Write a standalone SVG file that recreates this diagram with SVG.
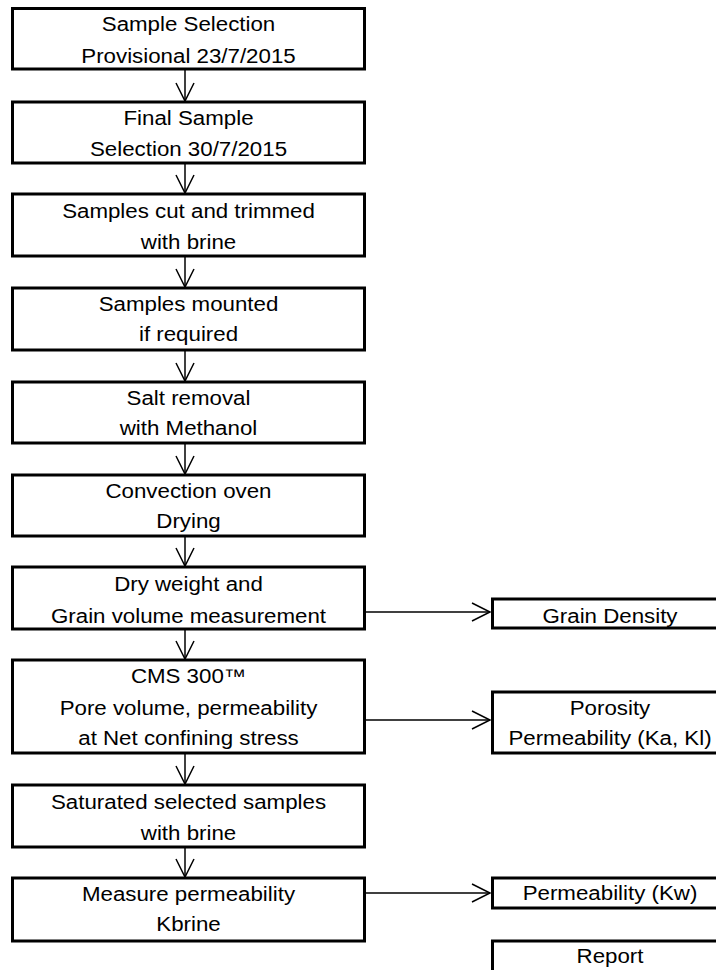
<svg xmlns="http://www.w3.org/2000/svg" width="716" height="970" viewBox="0 0 716 970">
<style>
.box{fill:#fff;stroke:#000;stroke-width:3}
.t{font-family:"Liberation Sans",Arial,sans-serif;font-size:20px;fill:#000;text-anchor:middle}
.c{stroke:#000;stroke-width:1.5;fill:none}
</style>
<defs>
<marker id="ah" viewBox="-20 -11 22 22" refX="0" refY="0" markerWidth="22" markerHeight="22" markerUnits="userSpaceOnUse" orient="auto">
<path d="M-18,-9 L0,0 L-18,9" fill="none" stroke="#000" stroke-width="1.5"/>
</marker>
</defs>
<rect width="716" height="970" fill="#fff"/>
<g id="connectors">
<line class="c" x1="185" y1="69" x2="185" y2="101" marker-end="url(#ah)"/>
<line class="c" x1="185" y1="163" x2="185" y2="193" marker-end="url(#ah)"/>
<line class="c" x1="185" y1="256" x2="185" y2="287" marker-end="url(#ah)"/>
<line class="c" x1="185" y1="350" x2="185" y2="381" marker-end="url(#ah)"/>
<line class="c" x1="185" y1="443" x2="185" y2="474" marker-end="url(#ah)"/>
<line class="c" x1="185" y1="536" x2="185" y2="566" marker-end="url(#ah)"/>
<line class="c" x1="185" y1="629" x2="185" y2="659" marker-end="url(#ah)"/>
<line class="c" x1="185" y1="752" x2="185" y2="784" marker-end="url(#ah)"/>
<line class="c" x1="185" y1="847" x2="185" y2="877" marker-end="url(#ah)"/>
<line class="c" x1="364" y1="612" x2="490" y2="612" marker-end="url(#ah)"/>
<line class="c" x1="364" y1="720" x2="490" y2="720" marker-end="url(#ah)"/>
<line class="c" x1="362" y1="893" x2="490" y2="893" marker-end="url(#ah)"/>
</g>
<g id="n1"><rect class="box" x="12.5" y="8.5" width="352" height="60.5"/>
<g transform="translate(188.5 0) scale(1.115 1)"><text class="t" x="0" y="30.7">Sample Selection</text><text class="t" x="0" y="63">Provisional 23/7/2015</text></g></g>
<g id="n2"><rect class="box" x="12.5" y="102" width="352" height="61"/>
<g transform="translate(188.5 0) scale(1.115 1)"><text class="t" x="0" y="125">Final Sample</text><text class="t" x="0" y="156">Selection 30/7/2015</text></g></g>
<g id="n3"><rect class="box" x="12.5" y="194" width="352" height="62"/>
<g transform="translate(188.5 0) scale(1.115 1)"><text class="t" x="0" y="218.5">Samples cut and trimmed</text><text class="t" x="0" y="249.5">with brine</text></g></g>
<g id="n4"><rect class="box" x="12.5" y="288" width="352" height="62"/>
<g transform="translate(188.5 0) scale(1.115 1)"><text class="t" x="0" y="311.5">Samples mounted</text><text class="t" x="0" y="341.5">if required</text></g></g>
<g id="n5"><rect class="box" x="12.5" y="382" width="352" height="61"/>
<g transform="translate(188.5 0) scale(1.115 1)"><text class="t" x="0" y="405">Salt removal</text><text class="t" x="0" y="435">with Methanol</text></g></g>
<g id="n6"><rect class="box" x="12.5" y="475" width="352" height="61"/>
<g transform="translate(188.5 0) scale(1.115 1)"><text class="t" x="0" y="498.5">Convection oven</text><text class="t" x="0" y="528.5">Drying</text></g></g>
<g id="n7"><rect class="box" x="12.5" y="567" width="352" height="62"/>
<g transform="translate(188.5 0) scale(1.115 1)"><text class="t" x="0" y="591.5">Dry weight and</text><text class="t" x="0" y="623">Grain volume measurement</text></g></g>
<g id="n8"><rect class="box" x="12.5" y="660" width="352" height="93"/>
<g transform="translate(188.5 0) scale(1.115 1)"><text class="t" x="0" y="683.5">CMS 300™</text><text class="t" x="0" y="715">Pore volume, permeability</text><text class="t" x="0" y="745">at Net confining stress</text></g></g>
<g id="n9"><rect class="box" x="12.5" y="785" width="352" height="62"/>
<g transform="translate(188.5 0) scale(1.115 1)"><text class="t" x="0" y="809.5">Saturated selected samples</text><text class="t" x="0" y="840">with brine</text></g></g>
<g id="n10"><rect class="box" x="12.5" y="878" width="352" height="63"/>
<g transform="translate(188.5 0) scale(1.115 1)"><text class="t" x="0" y="901.5">Measure permeability</text><text class="t" x="0" y="931.5">Kbrine</text></g></g>
<g id="r1"><rect class="box" x="492.5" y="599" width="240" height="29"/>
<g transform="translate(610 0) scale(1.115 1)"><text class="t" x="0" y="623">Grain Density</text></g></g>
<g id="r2"><rect class="box" x="492.5" y="692" width="240" height="61"/>
<g transform="translate(610 0) scale(1.115 1)"><text class="t" x="0" y="715">Porosity</text><text class="t" x="0" y="745">Permeability (Ka, Kl)</text></g></g>
<g id="r3"><rect class="box" x="492.5" y="878" width="240" height="30"/>
<g transform="translate(610 0) scale(1.115 1)"><text class="t" x="0" y="900">Permeability (Kw)</text></g></g>
<g id="r4"><rect class="box" x="492.5" y="941" width="240" height="60"/>
<g transform="translate(610 0) scale(1.115 1)"><text class="t" x="0" y="963">Report</text></g></g>
</svg>
